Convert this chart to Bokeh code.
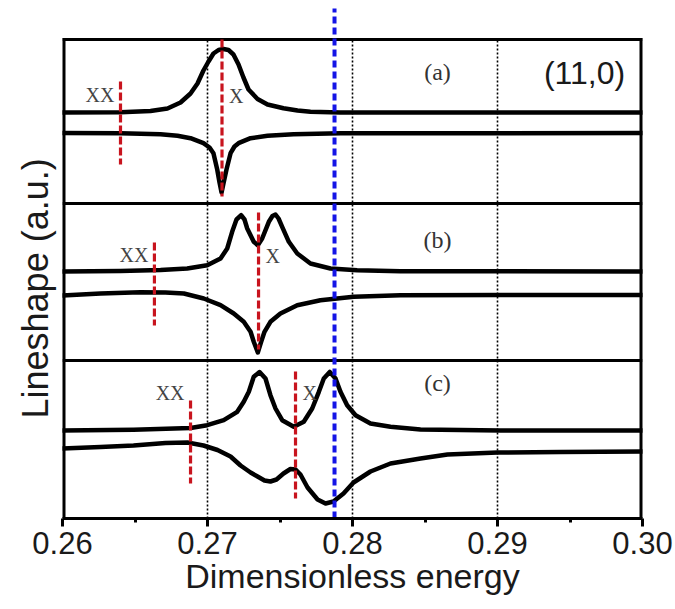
from bokeh.plotting import figure
from bokeh.models import Range1d, FixedTicker, NumeralTickFormatter, Label, Title
from bokeh.embed import file_html
from bokeh.resources import INLINE

# ---------------- data (dimensionless energy, lineshape in a.u.) ----------------
# panel (a)
a_top_x = [0.26000, 0.26400, 0.26607, 0.26724, 0.26814, 0.26883, 0.26931, 0.26972, 0.27007,
           0.27041, 0.27076, 0.27110, 0.27145, 0.27179, 0.27214, 0.27248, 0.27283, 0.27345,
           0.27414, 0.27524, 0.27621, 0.27710, 0.27917, 0.30000]
a_top_y = [406, 406.3, 407.5, 410, 416, 425, 435, 448, 457,
           465, 468.5, 469.5, 468.5, 464, 454, 441, 429, 419.5,
           414, 410.3, 408, 406.7, 406, 406]
a_bot_x = [0.26000, 0.26400, 0.26676, 0.26793, 0.26883, 0.26972, 0.27014, 0.27041, 0.27067,
           0.27083, 0.27097, 0.27110, 0.27131, 0.27159, 0.27186, 0.27214, 0.27297, 0.27414,
           0.27593, 0.27917, 0.30000]
a_bot_y = [385.5, 385.2, 384.3, 382.7, 380.3, 375.3, 371, 365.3, 349,
           336, 326, 335, 349, 365.3, 372, 375.3, 380.3, 382.7,
           384.3, 385.2, 385.5]
# panel (b)
b_top_x = [0.26000, 0.26400, 0.26676, 0.26860, 0.26998, 0.27090, 0.27136, 0.27170, 0.27200,
           0.27232, 0.27255, 0.27274, 0.27319, 0.27347, 0.27377, 0.27423, 0.27448, 0.27469,
           0.27490, 0.27515, 0.27561, 0.27619, 0.27710, 0.27848, 0.28032, 0.28331, 0.30000]
b_top_y = [247, 247.5, 248.5, 250, 253.3, 260, 270, 286.7, 299,
           303.3, 299, 290, 276.7, 273.3, 280, 296.7, 302.5, 304,
           300, 291.7, 276.7, 265, 255, 250, 248.3, 247.3, 247]
b_bot_x = [0.26000, 0.26262, 0.26538, 0.26710, 0.26837, 0.26974, 0.27090, 0.27181, 0.27250,
           0.27297, 0.27319, 0.27347, 0.27370, 0.27393, 0.27434, 0.27503, 0.27619, 0.27779,
           0.28009, 0.28331, 0.29021, 0.30000]
b_bot_y = [223, 225, 226.3, 226, 225, 220, 213.3, 205, 196.7,
           186.7, 176.7, 166, 176.7, 186.7, 196.7, 205, 213.3, 218.3,
           221.7, 223.3, 223.5, 223.5]
# panel (c)
c_top_x = [0.26000, 0.26490, 0.26883, 0.26998, 0.27112, 0.27205, 0.27250, 0.27285, 0.27319,
           0.27359, 0.27400, 0.27434, 0.27469, 0.27515, 0.27595, 0.27664, 0.27722, 0.27768,
           0.27802, 0.27843, 0.27883, 0.27917, 0.27963, 0.28021, 0.28124, 0.28262, 0.28469,
           0.29021, 0.30000]
c_top_y = [88, 88.7, 90.5, 93.3, 98.3, 106.7, 116.7, 126.7, 141.7,
           146.5, 140, 123.3, 110, 98.3, 91.7, 96.7, 110, 126.7,
           140, 146.5, 140, 126.7, 113.3, 103.3, 95, 91.7, 89,
           88, 88]
c_bot_x = [0.26000, 0.26262, 0.26490, 0.26710, 0.26862, 0.26972, 0.27069, 0.27159, 0.27228,
           0.27297, 0.27345, 0.27393, 0.27434, 0.27476, 0.27524, 0.27572, 0.27607, 0.27641,
           0.27690, 0.27759, 0.27814, 0.27869, 0.27938, 0.28007, 0.28124, 0.28262, 0.28469,
           0.28655, 0.29000, 0.29434, 0.30000]
c_bot_y = [70, 71.5, 73, 75.5, 76, 73, 68.5, 62, 53,
           46, 42, 38, 37, 39, 45, 49.5, 49, 44,
           31, 19, 15, 17, 25, 36, 47, 55, 60,
           64, 66, 66.5, 67]

# exciton energies marked by red dashes, and the blue reference energy
xx_energy = [0.2640, 0.26634, 0.26883]
x_energy = [0.2710, 0.27352, 0.27607]
blue_energy = 0.27876
panel_names = ["(a)", "(b)", "(c)"]
tube_label = "(11,0)"
major_ticks = [0.26, 0.27, 0.28, 0.29, 0.30]
minor_ticks = [0.265, 0.275, 0.285, 0.295]
dotted_energies = [0.27, 0.28, 0.29]

# ---------------- figure ----------------
p = figure(width=675, height=609, x_range=Range1d(0.26, 0.30), y_range=Range1d(0, 513),
           output_backend="svg", toolbar_location=None,
           min_border_left=62, min_border_right=33, min_border_top=5, min_border_bottom=91)
p.xgrid.visible = False
p.ygrid.visible = False
p.yaxis.visible = False
p.outline_line_color = None
p.background_fill_color = "white"
p.border_fill_color = "white"

xa = p.xaxis[0]
xa.ticker = FixedTicker(ticks=major_ticks, minor_ticks=minor_ticks)
xa.formatter = NumeralTickFormatter(format="0.00")
xa.axis_line_width = 3
xa.axis_line_color = "black"
xa.major_tick_line_width = 3
xa.minor_tick_line_width = 3
xa.major_tick_in = 0
xa.major_tick_out = 8
xa.minor_tick_in = 0
xa.minor_tick_out = 4
xa.major_label_text_font = "Liberation Sans"
xa.major_label_text_font_size = "31px"
xa.major_label_text_color = "#1a1a1a"
xa.major_label_standoff = 5
xa.axis_label = "Dimensionless energy"
xa.axis_label_text_font = "Liberation Sans"
xa.axis_label_text_font_size = "34px"
xa.axis_label_text_font_style = "normal"
xa.axis_label_text_color = "#1a1a1a"
xa.axis_label_standoff = 0

# y label as a side title (bottom-aligned with an offset)
p.add_layout(Title(text="Lineshape (a.u.)", align="left", offset=100, standoff=14,
                   text_font="Liberation Sans", text_font_size="36px",
                   text_font_style="normal", text_color="#1a1a1a"), "left")

# dotted reference lines
n = len(dotted_energies)
p.segment(x0=dotted_energies, y0=[0] * n, x1=dotted_energies, y1=[479] * n,
          line_color="black", line_width=1.6, line_dash="2 2")

# frame box and panel dividers
p.segment(x0=[0.26, 0.26, 0.26], y0=[479, 315, 158], x1=[0.30, 0.30, 0.30], y1=[479, 315, 158],
          line_color="black", line_width=3)
p.segment(x0=[0.26, 0.30], y0=[0, 0], x1=[0.26, 0.30], y1=[480.5, 480.5],
          line_color="black", line_width=6)

# lineshapes
for xs, ys in [(a_top_x, a_top_y), (a_bot_x, a_bot_y), (b_top_x, b_top_y),
               (b_bot_x, b_bot_y), (c_top_x, c_top_y), (c_bot_x, c_bot_y)]:
    p.line(xs, ys, line_color="black", line_width=4.5, line_join="round", line_cap="round")

# red dashed exciton markers
red = "#c8141e"
p.segment(x0=xx_energy, y0=[437, 276, 118], x1=xx_energy, y1=[354, 193, 35],
          line_color=red, line_width=3.2, line_dash="8 3")
p.segment(x0=x_energy, y0=[479, 306, 147], x1=x_energy, y1=[322, 169, 20],
          line_color=red, line_width=3.2, line_dash="8 3")

# blue dashed line
p.segment(x0=[blue_energy], y0=[0], x1=[blue_energy], y1=[510],
          line_color="#1414e6", line_width=4, line_dash="7 4")

# texts
serif = "Liberation Serif"
for name, yy in zip(panel_names, [447, 279, 136]):
    p.add_layout(Label(x=0.28586, y=yy, text=name, text_font=serif, text_font_size="24px",
                       text_color="#333333", text_align="center", text_baseline="middle"))
p.add_layout(Label(x=0.2960, y=446, text=tube_label, text_font="Liberation Sans",
                   text_font_size="32px", text_color="#1a1a1a", text_align="center",
                   text_baseline="middle"))
for e, yy in zip(xx_energy, [423.5, 263.5, 126]):
    p.add_layout(Label(x=e, y=yy, x_offset=-6, text="XX", text_font=serif, text_font_size="20px",
                       text_color="#444444", text_align="right", text_baseline="middle"))
for e, yy in zip(x_energy, [423, 263, 126]):
    p.add_layout(Label(x=e, y=yy, x_offset=7, text="X", text_font=serif, text_font_size="20px",
                       text_color="#444444", text_align="left", text_baseline="middle"))

open("out.html", "w").write(file_html(p, INLINE))
